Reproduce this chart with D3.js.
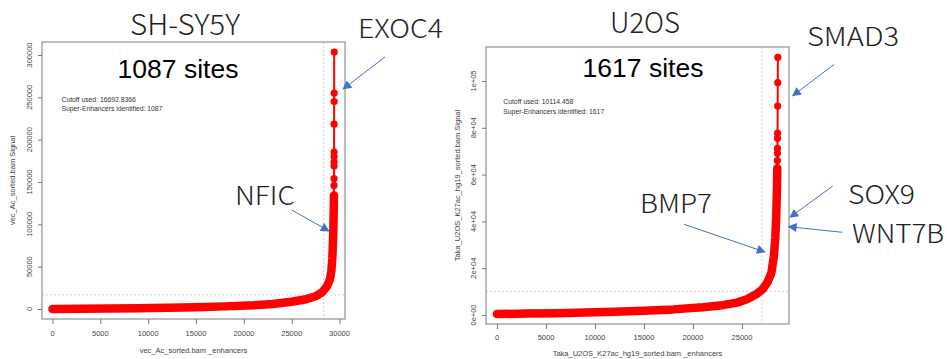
<!DOCTYPE html>
<html>
<head>
<meta charset="utf-8">
<script src="https://cdn.jsdelivr.net/npm/d3@7"></script>
<style>
  body { margin: 0; background: #fff; }
  svg text { font-family: "Liberation Sans", Arial, sans-serif; }
</style>
</head>
<body>
<script>
// SH-SY5Y: ranked enhancers, [rank, signal]
const shCurve = [
  [0, 100], [3000, 400], [6000, 700], [9000, 1000], [12000, 1500], [15000, 2200],
  [18000, 3100], [21000, 4500], [23000, 6000], [25000, 8500], [26500, 11500],
  [27500, 15000], [28200, 20000], [28700, 27000], [29000, 35000], [29150, 45000],
  [29250, 60000], [29320, 80000], [29370, 100000], [29400, 120000], [29420, 134000]
];
const shTop = [
  [29424, 146000], [29428, 154000], [29430, 169000], [29432, 174000], [29434, 180000],
  [29436, 185400], [29438, 218300], [29440, 245000], [29442, 255000], [29444, 303400]
];
const shTicksX = [0, 5000, 10000, 15000, 20000, 25000, 30000];
const shTicksY = [0, 50000, 100000, 150000, 200000, 250000, 300000];

// U2OS
const uCurve = [
  [0, 400], [3000, 600], [6000, 800], [9000, 1050], [12000, 1400], [15000, 1800],
  [18000, 2400], [21000, 3300], [23000, 4200], [24500, 5300], [25500, 6700],
  [26500, 9000], [27100, 11000], [27600, 14000], [28000, 18000], [28250, 25000],
  [28400, 33000], [28500, 43000], [28560, 53000], [28600, 62700]
];
const uTop = [
  [28610, 66000], [28615, 69100], [28620, 71200], [28625, 75500], [28630, 77700],
  [28640, 89300], [28650, 99300], [28657, 110100]
];
const uTicksX = [0, 5000, 10000, 15000, 20000, 25000];
const uTicksY = [0, 20000, 40000, 60000, 80000, 100000];
const uTickLabels = ["0e+00", "2e+04", "4e+04", "6e+04", "8e+04", "1e+05"];

const panels = [
  {
    title: "SH-SY5Y", sites: "1087 sites",
    cutoff: "16692.8366", seCount: 1087, cutRank: 28343, cutSignal: 16692.8366,
    curve: shCurve, top: shTop, ticksX: shTicksX, ticksY: shTicksY,
    tickLabelY: d => String(d),
    xTitle: "vec_Ac_sorted.bam _enhancers", yTitle: "vec_Ac_sorted.bam  Signal",
    box: [42, 345, 42, 319], xDom: [-1098, 30574], yDom: [-11811, 315354],
    titlePos: [185, 35, 110], sitesPos: [178, 78], cutPos: [61.5, 101.5],
    yLabX: 32, yTitleX: 15, xLabY: 336, xTitleY: 353
  },
  {
    title: "U2OS", sites: "1617 sites",
    cutoff: "10114.458", seCount: 1617, cutRank: 27040, cutSignal: 10114.458,
    curve: uCurve, top: uTop, ticksX: uTicksX, ticksY: uTicksY,
    tickLabelY: (d, i) => uTickLabels[i],
    xTitle: "Taka_U2OS_K27ac_hg19_sorted.bam _enhancers", yTitle: "Taka_U2OS_K27ac_hg19_sorted.bam  Signal",
    box: [486, 789, 47, 324], xDom: [-1122, 29796], yDom: [-3846, 114530],
    titlePos: [645, 33, 70], sitesPos: [643, 77.3], cutPos: [503.3, 104],
    yLabX: 476, yTitleX: 460, xLabY: 340, xTitleY: 356
  }
];

// gene callouts: text, x, baseline, width, arrow from -> to
const genes = [
  { name: "EXOC4", x: 358, y: 38, w: 85, from: [385, 57], to: [343, 89] },
  { name: "NFIC", x: 235, y: 205, w: 60, from: [291.7, 210], to: [329, 231] },
  { name: "SMAD3", x: 807, y: 46, w: 92, from: [834.3, 64.3], to: [792.7, 95.7] },
  { name: "BMP7", x: 640, y: 213.3, w: 72, from: [684, 224.3], to: [765, 252] },
  { name: "SOX9", x: 848, y: 204, w: 67, from: [832.7, 186], to: [790, 217.3] },
  { name: "WNT7B", x: 852, y: 242.7, w: 92, from: [842.3, 232.3], to: [788.5, 226.7] }
];

const svg = d3.select("body").append("svg")
  .attr("width", 947).attr("height", 359);

svg.append("defs").append("marker")
  .attr("id", "arrow")
  .attr("viewBox", "0 0 10 10")
  .attr("refX", 9).attr("refY", 5)
  .attr("markerWidth", 11).attr("markerHeight", 9)
  .attr("markerUnits", "userSpaceOnUse")
  .attr("orient", "auto")
  .append("path").attr("d", "M0,0 L10,5 L0,10 z").attr("fill", "#4472C4");

panels.forEach(p => {
  const [x0, x1, y0, y1] = p.box;
  const x = d3.scaleLinear().domain(p.xDom).range([x0, x1]);
  const y = d3.scaleLinear().domain(p.yDom).range([y1, y0]);
  const g = svg.append("g");

  // cutoff guides
  g.append("line")
    .attr("x1", x(p.cutRank)).attr("x2", x(p.cutRank))
    .attr("y1", y0).attr("y2", y1)
    .attr("stroke", "#cfcfcf").attr("stroke-dasharray", "2,2");
  g.append("line")
    .attr("x1", x0).attr("x2", x1)
    .attr("y1", y(p.cutSignal)).attr("y2", y(p.cutSignal))
    .attr("stroke", "#cfcfcf").attr("stroke-dasharray", "2,2");

  // dense ranked curve
  const line = d3.line().x(d => x(d[0])).y(d => y(d[1]));
  g.append("path").datum(p.curve)
    .attr("d", line).attr("fill", "none")
    .attr("stroke", "#ff0000").attr("stroke-width", 8.5)
    .attr("stroke-linecap", "round").attr("stroke-linejoin", "round");

  // sparse top points
  const topPts = [p.curve[p.curve.length - 1]].concat(p.top);
  g.append("path").datum(topPts)
    .attr("d", line).attr("fill", "none")
    .attr("stroke", "#ff0000").attr("stroke-width", 2);
  g.selectAll("circle.top").data(p.top).join("circle")
    .attr("class", "top")
    .attr("cx", d => x(d[0])).attr("cy", d => y(d[1]))
    .attr("r", 3.6).attr("fill", "#ff0000");

  // box
  g.append("rect")
    .attr("x", x0).attr("y", y0).attr("width", x1 - x0).attr("height", y1 - y0)
    .attr("fill", "none").attr("stroke", "#9a9a9a").attr("stroke-width", 1.3);

  // x axis
  const xAxis = g.append("g")
    .attr("transform", `translate(0,${y1})`)
    .call(d3.axisBottom(x).tickValues(p.ticksX).tickSize(5).tickFormat(d3.format("d")));
  xAxis.select(".domain").remove();
  xAxis.selectAll("line").attr("stroke", "#777");
  xAxis.selectAll("text").remove();
  g.selectAll("text.xl").data(p.ticksX).join("text")
    .attr("class", "xl")
    .attr("x", d => x(d)).attr("y", p.xLabY)
    .attr("text-anchor", "middle")
    .attr("font-size", 7.5).attr("fill", "#444")
    .text(d => String(d));

  // y axis
  const yAxis = g.append("g")
    .attr("transform", `translate(${x0},0)`)
    .call(d3.axisLeft(y).tickValues(p.ticksY).tickSize(4));
  yAxis.select(".domain").remove();
  yAxis.selectAll("line").attr("stroke", "#777");
  yAxis.selectAll("text").remove();
  g.selectAll("text.yl").data(p.ticksY).join("text")
    .attr("class", "yl")
    .attr("transform", d => `translate(${p.yLabX},${y(d)}) rotate(-90)`)
    .attr("text-anchor", "middle")
    .attr("font-size", 7.5).attr("fill", "#444")
    .text(p.tickLabelY);

  // axis titles
  g.append("text")
    .attr("x", (x0 + x1) / 2).attr("y", p.xTitleY)
    .attr("text-anchor", "middle").attr("font-size", 7.5).attr("fill", "#444")
    .text(p.xTitle);
  g.append("text")
    .attr("transform", `translate(${p.yTitleX},${(y0 + y1) / 2}) rotate(-90)`)
    .attr("text-anchor", "middle").attr("font-size", 7.5).attr("fill", "#444")
    .text(p.yTitle);

  // panel title
  g.append("text")
    .attr("x", p.titlePos[0]).attr("y", p.titlePos[1])
    .attr("text-anchor", "middle")
    .style("font-family", "'Noto Sans CJK JP', 'Noto Sans', sans-serif")
    .attr("font-weight", 300)
    .attr("font-size", 28).attr("fill", "#222")
    .attr("textLength", p.titlePos[2]).attr("lengthAdjust", "spacingAndGlyphs")
    .text(p.title);

  // site count
  g.append("text")
    .attr("x", p.sitesPos[0]).attr("y", p.sitesPos[1])
    .attr("text-anchor", "middle")
    .attr("font-size", 26.5).attr("fill", "#000")
    .text(p.sites);

  // cutoff annotation
  g.append("text")
    .attr("x", p.cutPos[0]).attr("y", p.cutPos[1])
    .attr("font-size", 6.8).attr("fill", "#333")
    .text("Cutoff used:  " + p.cutoff);
  g.append("text")
    .attr("x", p.cutPos[0]).attr("y", p.cutPos[1] + 9.5)
    .attr("font-size", 6.8).attr("fill", "#333")
    .text("Super-Enhancers identified:  " + p.seCount);
});

// gene callouts
genes.forEach(gn => {
  svg.append("line")
    .attr("x1", gn.from[0]).attr("y1", gn.from[1])
    .attr("x2", gn.to[0]).attr("y2", gn.to[1])
    .attr("stroke", "#4472C4").attr("stroke-width", 1)
    .attr("marker-end", "url(#arrow)");
  svg.append("text")
    .attr("x", gn.x).attr("y", gn.y)
    .style("font-family", "'Noto Sans CJK JP', 'Noto Sans', sans-serif")
    .attr("font-weight", 300)
    .attr("font-size", 26).attr("fill", "#222")
    .attr("textLength", gn.w).attr("lengthAdjust", "spacingAndGlyphs")
    .text(gn.name);
});
</script>
</body>
</html>
